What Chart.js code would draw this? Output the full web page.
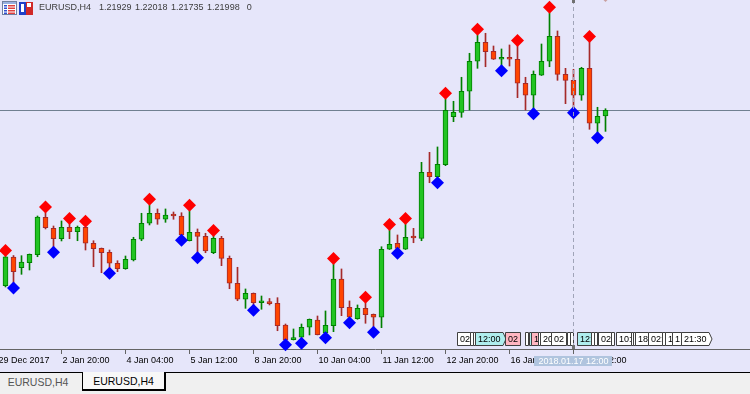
<!DOCTYPE html>
<html>
<head>
<meta charset="utf-8">
<script src="https://cdn.jsdelivr.net/npm/chart.js@4.4.1/dist/chart.umd.min.js"></script>
<style>
  html, body { margin: 0; padding: 0; background: #f0f0f0; }
  #wrap { position: relative; width: 750px; height: 372px; background: #e6e6fa; }
  #tabs { position: relative; width: 750px; height: 22px; background: #f0f0f0; border-top: 1px solid #000;
          box-sizing: border-box; font: 10.5px 'Liberation Sans', Arial, sans-serif; }
  .tab { position: absolute; top: 0; height: 19px; line-height: 19px; text-align: center; }
  .tab.off { left: 0; width: 76px; color: #555; }
  .tab.on { top: -1px; left: 82px; width: 81px; height: 17px; line-height: 19px; background: #f8f8f8; color: #000;
            border-left: 1px solid #000; border-right: 2px solid #000; border-bottom: 2px solid #000; }
</style>
</head>
<body>
<div id="wrap"><canvas id="chart" width="750" height="372"></canvas></div>
<div id="tabs">
  <div class="tab off">EURUSD,H4</div>
  <div class="tab on">EURUSD,H4</div>
</div>
<script>
// EURUSD H4, 76 bars (29 Dec 2017 .. 17 Jan 2018)
const symbol = 'EURUSD,H4';

const opens = [
  1.19806, 1.20165, 1.20031, 1.20093, 1.20193, 1.20661, 1.20523, 1.20393, 1.20536, 1.20481,
  1.20536, 1.20336, 1.20273, 1.20223, 1.20086, 1.20018, 1.20127, 1.20386, 1.20586, 1.20711,
  1.20636, 1.20686, 1.20677, 1.20368, 1.20473, 1.20423, 1.20218, 1.20398, 1.20148, 1.19836,
  1.19636, 1.19711, 1.19593, 1.19602, 1.19586, 1.19315, 1.19131, 1.19161, 1.19286, 1.19377,
  1.19218, 1.19306, 1.19890, 1.19536, 1.19393, 1.19523, 1.19448, 1.19411, 1.20261, 1.20336,
  1.20261, 1.20411, 1.20398, 1.21223, 1.21168, 1.21318, 1.21918, 1.21973, 1.22236, 1.22611,
  1.22848, 1.22736, 1.22636, 1.22661, 1.22636, 1.22336, 1.22186, 1.22436, 1.22611, 1.22923,
  1.22448, 1.22373, 1.22186, 1.22523, 1.21836, 1.21929
];
const highs = [
  1.20177, 1.20183, 1.20181, 1.20202, 1.20677, 1.20718, 1.20552, 1.20615, 1.20577, 1.20552,
  1.20540, 1.20368, 1.20277, 1.20252, 1.20118, 1.20177, 1.20411, 1.20711, 1.20815, 1.20765,
  1.20765, 1.20727, 1.20718, 1.20740, 1.20515, 1.20461, 1.20427, 1.20423, 1.20177, 1.20036,
  1.19765, 1.19715, 1.19677, 1.19646, 1.19656, 1.19327, 1.19265, 1.19327, 1.19390, 1.19427,
  1.19490, 1.20077, 1.20015, 1.19615, 1.19565, 1.19590, 1.19452, 1.20293, 1.20502, 1.20440,
  1.20577, 1.20523, 1.21348, 1.21473, 1.21540, 1.22140, 1.22111, 1.22411, 1.22711, 1.22940,
  1.22961, 1.22802, 1.22765, 1.22815, 1.22802, 1.22411, 1.22490, 1.22827, 1.23215, 1.22990,
  1.22523, 1.22511, 1.22536, 1.22852, 1.22036, 1.22018
];
const lows = [
  1.19790, 1.19836, 1.19948, 1.20002, 1.20168, 1.20515, 1.20283, 1.20365, 1.20393, 1.20368,
  1.20252, 1.20043, 1.19968, 1.20021, 1.19981, 1.20011, 1.20115, 1.20368, 1.20565, 1.20573,
  1.20598, 1.20636, 1.20433, 1.20365, 1.20215, 1.20218, 1.20206, 1.20056, 1.19768, 1.19618,
  1.19523, 1.19558, 1.19511, 1.19565, 1.19243, 1.19127, 1.19127, 1.19146, 1.19190, 1.19190,
  1.19215, 1.19231, 1.19431, 1.19402, 1.19386, 1.19336, 1.19283, 1.19281, 1.20258, 1.20271,
  1.20258, 1.20343, 1.20368, 1.21093, 1.21152, 1.21306, 1.21856, 1.21911, 1.22002, 1.22523,
  1.22543, 1.22633, 1.22552, 1.22552, 1.22156, 1.22002, 1.22015, 1.22433, 1.22543, 1.22373,
  1.22081, 1.22027, 1.22123, 1.21761, 1.21715, 1.21735
];
const closes = [
  1.20168, 1.19981, 1.20102, 1.20198, 1.20665, 1.20531, 1.20393, 1.20536, 1.20481, 1.20536,
  1.20336, 1.20268, 1.20218, 1.20086, 1.20018, 1.20136, 1.20386, 1.20586, 1.20711, 1.20636,
  1.20690, 1.20677, 1.20440, 1.20473, 1.20423, 1.20240, 1.20398, 1.20148, 1.19836, 1.19636,
  1.19711, 1.19593, 1.19602, 1.19581, 1.19306, 1.19127, 1.19140, 1.19286, 1.19386, 1.19193,
  1.19311, 1.19890, 1.19531, 1.19411, 1.19523, 1.19443, 1.19411, 1.20261, 1.20323, 1.20273,
  1.20411, 1.20402, 1.21223, 1.21168, 1.21323, 1.21998, 1.21973, 1.22236, 1.22611, 1.22848,
  1.22731, 1.22636, 1.22661, 1.22636, 1.22336, 1.22186, 1.22448, 1.22611, 1.22923, 1.22448,
  1.22373, 1.22186, 1.22523, 1.21836, 1.21923, 1.21998
];

// Fractals indicator: bars carrying an up (red) / down (blue) mark
const upFractals = [0, 5, 8, 10, 18, 23, 26, 41, 45, 48, 50, 55, 59, 64, 68, 73];
const downFractals = [1, 6, 13, 22, 24, 31, 35, 37, 40, 43, 46, 49, 54, 62, 66, 71, 74];

// time axis
const tickBars = [-1, 7, 15, 23, 31, 39, 47, 55, 63, 71];
const tickLabels = ['29 Dec 2017', '2 Jan 20:00', '4 Jan 04:00', '5 Jan 12:00', '8 Jan 20:00',
  '10 Jan 04:00', '11 Jan 12:00', '12 Jan 20:00', '16 Jan 04:00', '17 Jan 12:00'];
const cursorBar = 71;
const cursorLabel = '2018.01.17 12:00';

// calendar event tags along the bottom (bar position, text, kind 0 plain / 1 cyan / 2 pink)
const eventBars = [56.48, 58.15, 58.48, 58.81, 62.44, 65.06, 65.56, 65.81, 66.65, 66.9,
  68.28, 70.19, 70.65, 71.56, 73.28, 73.6, 73.94, 74.13, 75.69, 76.4,
  78.19, 78.53, 78.69, 80.35, 82.1, 82.44, 83.35, 84.44];
const eventTexts = ['02', '', '', '12:00', '02', '', ':', '1', '', '20',
  '02', '', '', '12:00', '', '', '', '02:00', '', '10:00',
  '', '', '18:00', '02:00', '', '1', '1', '21:30'];
const eventKinds = [0, 0, 0, 1, 2, 0, 1, 2, 0, 0,
  0, 0, 0, 1, 0, 0, 0, 0, 0, 0,
  0, 0, 0, 0, 0, 0, 0, 0];
const eventArrows = [3, 27];

// visible window
const xMin = -0.6875, xMax = 93.0625;
const priceTop = 1.23377, priceBottom = 1.190145;
const markGapUp = 0.0007, markGapDown = 0.0006;

const FONT = "'Liberation Sans', Arial, sans-serif";
const bullFill = '#22c422', bullLine = '#008000';
const bearFill = '#ff4500', bearLine = '#a52a2a';
const isUp = i => closes[i] >= opens[i];

const overlay = {
  id: 'overlay',
  beforeDatasetsDraw(chart) {
    const { ctx, chartArea: a, scales: { y } } = chart;
    const py = Math.floor(y.getPixelForValue(closes[closes.length - 1])) + 0.5;
    ctx.save();
    ctx.strokeStyle = '#708090';
    ctx.lineWidth = 1;
    ctx.beginPath();
    ctx.moveTo(a.left, py);
    ctx.lineTo(a.right, py);
    ctx.stroke();
    ctx.restore();
  },
  afterDatasetsDraw(chart) {
    const { ctx, chartArea: a, scales: { x } } = chart;
    ctx.save();
    // event tags
    ctx.font = '9px ' + FONT;
    ctx.textBaseline = 'middle';
    const top = a.bottom - 16.5, h = 13;
    const fills = ['#ffffff', '#afeeee', '#ffb6c1'];
    for (let i = 0; i < eventBars.length; i++) {
      const left = Math.floor(x.getPixelForValue(eventBars[i])) + 0.5;
      const next = i < eventBars.length - 1 ? Math.floor(x.getPixelForValue(eventBars[i + 1])) + 0.5 : Infinity;
      const tw = eventTexts[i] ? ctx.measureText(eventTexts[i]).width + 5 : 3;
      const w = Math.min(tw, next - left);
      const arrow = eventArrows.includes(i);
      ctx.beginPath();
      ctx.moveTo(left, top);
      ctx.lineTo(left + w, top);
      if (arrow) ctx.lineTo(left + w + 3, top + h / 2);
      ctx.lineTo(left + w, top + h);
      ctx.lineTo(left, top + h);
      ctx.closePath();
      ctx.fillStyle = fills[eventKinds[i]];
      ctx.fill();
      ctx.strokeStyle = '#404040';
      ctx.lineWidth = 1;
      ctx.stroke();
      if (eventTexts[i]) {
        ctx.save();
        ctx.beginPath();
        ctx.rect(left + 1, top, w - 1, h);
        ctx.clip();
        ctx.fillStyle = '#000';
        ctx.fillText(eventTexts[i], left + 2.5, top + h / 2 + 0.5);
        ctx.restore();
      }
    }
    // cursor (dashed vertical line)
    const cx = Math.floor(x.getPixelForValue(cursorBar)) + 0.5;
    ctx.strokeStyle = '#a0a4b8';
    ctx.setLineDash([4, 3]);
    ctx.beginPath();
    ctx.moveTo(cx, a.top);
    ctx.lineTo(cx, a.bottom);
    ctx.stroke();
    ctx.setLineDash([]);
    ctx.fillStyle = '#707070';
    ctx.fillRect(cx - 1.5, a.top, 3, 3);
    ctx.fillRect(cx - 1.5, a.bottom - 4, 3, 4);
    // small mark peeking at the top edge
    const mx = Math.floor(x.getPixelForValue(closes.length - 1)) + 0.5;
    ctx.fillStyle = '#c8a0a0';
    ctx.beginPath();
    ctx.moveTo(mx - 3, a.top - 1);
    ctx.lineTo(mx, a.top + 2);
    ctx.lineTo(mx + 3, a.top - 1);
    ctx.closePath();
    ctx.fill();
    ctx.restore();
  },
  afterDraw(chart) {
    const { ctx, chartArea: a, scales: { x } } = chart;
    ctx.save();
    // cursor time label over the axis
    ctx.font = '9px ' + FONT;
    const cx = Math.floor(x.getPixelForValue(cursorBar)) + 0.5;
    const lw = ctx.measureText(cursorLabel).width + 8;
    ctx.fillStyle = '#b0c4de';
    ctx.fillRect(Math.round(cx - lw / 2), a.bottom + 7, Math.round(lw), 10);
    ctx.fillStyle = '#ffffff';
    ctx.textAlign = 'center';
    ctx.textBaseline = 'middle';
    ctx.fillText(cursorLabel, cx, a.bottom + 12.5);
    // icons
    ctx.fillStyle = '#ffffff';
    ctx.fillRect(2, 1, 15, 14);
    ctx.strokeStyle = '#7080a0';
    ctx.strokeRect(2.5, 1.5, 14, 13);
    ctx.fillStyle = '#98b0e0';
    ctx.fillRect(3, 2, 13, 2);
    for (let r = 0; r < 4; r++) {
      ctx.fillStyle = '#3050d0';
      ctx.fillRect(4, 5 + r * 2.5, 3, 1.5);
      ctx.fillStyle = '#e04040';
      ctx.fillRect(8, 5 + r * 2.5, 7, 1.5);
    }
    ctx.fillStyle = '#2040c8';
    ctx.fillRect(19, 2, 7, 13);
    ctx.fillStyle = '#d02828';
    ctx.fillRect(26, 2, 7, 13);
    ctx.fillStyle = '#ffffff';
    ctx.fillRect(21, 4, 3, 8);
    ctx.fillRect(27, 3, 4, 4);
    // header
    ctx.font = '9px ' + FONT;
    ctx.textAlign = 'left';
    ctx.textBaseline = 'alphabetic';
    ctx.fillStyle = '#3c3c3c';
    const n = closes.length - 1;
    const parts = [symbol, opens[n].toFixed(5), highs[n].toFixed(5), lows[n].toFixed(5), closes[n].toFixed(5), '0'];
    const gaps = [8, 3.5, 3.5, 3.5, 7];
    let tx = 39;
    parts.forEach((p, i) => {
      ctx.fillText(p, tx, 10);
      tx += ctx.measureText(p).width + (gaps[i] || 0);
    });
    ctx.restore();
  }
};

const ctx = document.getElementById('chart').getContext('2d');
new Chart(ctx, {
  type: 'bar',
  data: {
    datasets: [
      {
        type: 'scatter',
        data: upFractals.map(i => ({ x: i, y: highs[i] + markGapUp })),
        pointStyle: 'rectRot',
        radius: 6.5,
        backgroundColor: '#ff0000',
        borderWidth: 0,
        clip: false
      },
      {
        type: 'scatter',
        data: downFractals.map(i => ({ x: i, y: lows[i] - markGapDown })),
        pointStyle: 'rectRot',
        radius: 6.5,
        backgroundColor: '#0000ff',
        borderWidth: 0,
        clip: false
      },
      {
        label: 'body',
        data: opens.map((o, i) => ({ x: i, y: [o, closes[i]] })),
        grouped: false,
        barThickness: 5,
        minBarLength: 2,
        borderWidth: 1,
        borderSkipped: false,
        backgroundColor: opens.map((o, i) => isUp(i) ? bullFill : bearFill),
        borderColor: opens.map((o, i) => isUp(i) ? bullLine : bearLine)
      },
      {
        label: 'wick',
        data: lows.map((l, i) => ({ x: i, y: [l, highs[i]] })),
        grouped: false,
        barThickness: 1,
        borderWidth: 0,
        backgroundColor: opens.map((o, i) => isUp(i) ? bullLine : bearLine)
      }
    ]
  },
  options: {
    responsive: false,
    animation: false,
    events: [],
    layout: { padding: 0, autoPadding: false },
    plugins: { legend: { display: false }, tooltip: { enabled: false } },
    scales: {
      x: {
        type: 'linear',
        min: xMin,
        max: xMax,
        offset: false,
        afterBuildTicks: axis => { axis.ticks = tickBars.map(v => ({ value: v })); },
        afterFit: axis => { axis.paddingLeft = 0; axis.paddingRight = 0; axis.height = 23; },
        ticks: {
          autoSkip: false,
          maxRotation: 0,
          minRotation: 0,
          align: 'start',
          labelOffset: 1,
          padding: 1,
          color: '#000',
          font: { family: FONT, size: 9 },
          callback: (v, i) => tickLabels[i]
        },
        grid: { drawOnChartArea: false, drawTicks: true, tickLength: 5, color: '#646464', offset: false },
        border: { display: true, color: '#646464' }
      },
      y: { type: 'linear', display: false, min: priceBottom, max: priceTop }
    }
  },
  plugins: [overlay]
});
</script>
</body>
</html>
